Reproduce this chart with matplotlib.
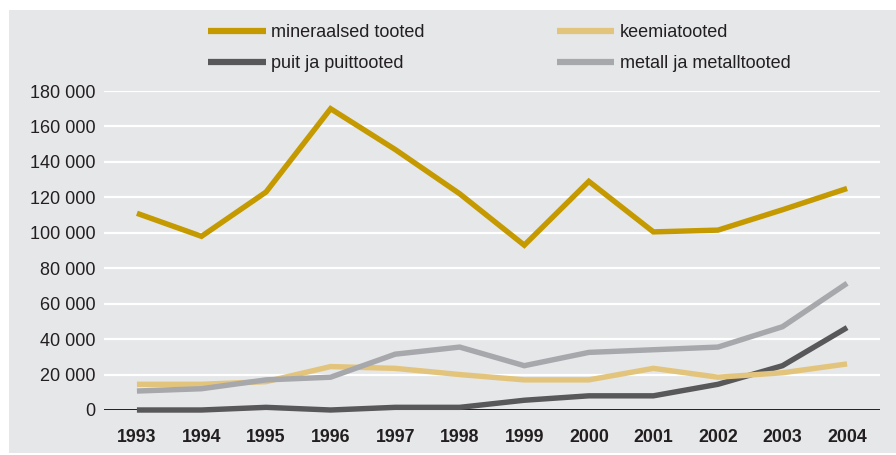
import matplotlib.pyplot as plt
from matplotlib.patches import Rectangle
from matplotlib.ticker import FuncFormatter

plt.rcParams['font.family'] = ['Liberation Sans', 'DejaVu Sans']

years = [1993, 1994, 1995, 1996, 1997, 1998, 1999, 2000, 2001, 2002, 2003, 2004]
mineraalsed = [111000, 98000, 123000, 170000, 147000, 122000, 93000, 129000, 100500, 101500, 113000, 125000]
keemia = [14500, 14500, 16000, 24500, 23500, 20000, 17000, 17000, 23500, 18500, 21000, 26000]
puit = [0, 0, 1500, 0, 1500, 1500, 5500, 8000, 8000, 14500, 25000, 46500]
metall = [10700, 12000, 17000, 18500, 31500, 35500, 25000, 32500, 34000, 35500, 47000, 71500]

labels = ['mineraalsed tooted', 'puit ja puittooted', 'keemiatooted', 'metall ja metalltooted']
colors = ['#c49a00', '#58585a', '#e3c47c', '#a7a8ab']

W, H = 896, 455
fig = plt.figure(figsize=(W/100, H/100), dpi=100)
fig.patch.set_facecolor('white')
# gray panel behind everything
fig.patches.append(Rectangle((9/W, 2/H), (W-9)/W, (H-12)/H, transform=fig.transFigure,
                             facecolor='#e6e7e9', edgecolor='none', zorder=-10))

ax = fig.add_axes([104/W, (H-410)/H, (880-104)/W, (410-91)/H])
ax.set_facecolor('none')
ax.set_zorder(1)

series = [mineraalsed, puit, keemia, metall]
order = [3, 2, 1, 0]   # draw metall first, mineraalsed on top
handles = [None]*4
for i in order:
    handles[i], = ax.plot(years, series[i], color=colors[i], lw=3.9, solid_capstyle='butt',
                          solid_joinstyle='miter', clip_on=False, zorder=3+i)

ax.set_xlim(1992.49, 2004.51)
ax.set_ylim(0, 180000)
ax.set_yticks(range(0, 180001, 20000))
ax.set_xticks(years)
ax.yaxis.set_major_formatter(FuncFormatter(lambda v, p: '{:,}'.format(int(v)).replace(',', ' ')))

for y in range(20000, 180001, 20000):
    ax.axhline(y, color='white', lw=1.6, zorder=1)
ax.axhline(0, color='#231f20', lw=1.4, zorder=2)

for s in ax.spines.values():
    s.set_visible(False)
ax.tick_params(axis='both', length=0, colors='#231f20')
ax.tick_params(axis='y', labelsize=13, pad=6)
ax.tick_params(axis='x', labelsize=12.8, pad=14)
for t in ax.get_xticklabels():
    t.set_fontweight('bold')

leg = fig.legend(handles, labels, ncol=2, loc='upper left', bbox_to_anchor=(208/W, 1-24/H),
                 frameon=False, fontsize=13, handlelength=3.2, handletextpad=0.3,
                 columnspacing=7.3, labelspacing=0.8, borderpad=0, borderaxespad=0)
for line in leg.get_lines():
    line.set_linewidth(4.5)
for t in leg.get_texts():
    t.set_color('#231f20')

fig.savefig('out.png', dpi=100, facecolor='white')
